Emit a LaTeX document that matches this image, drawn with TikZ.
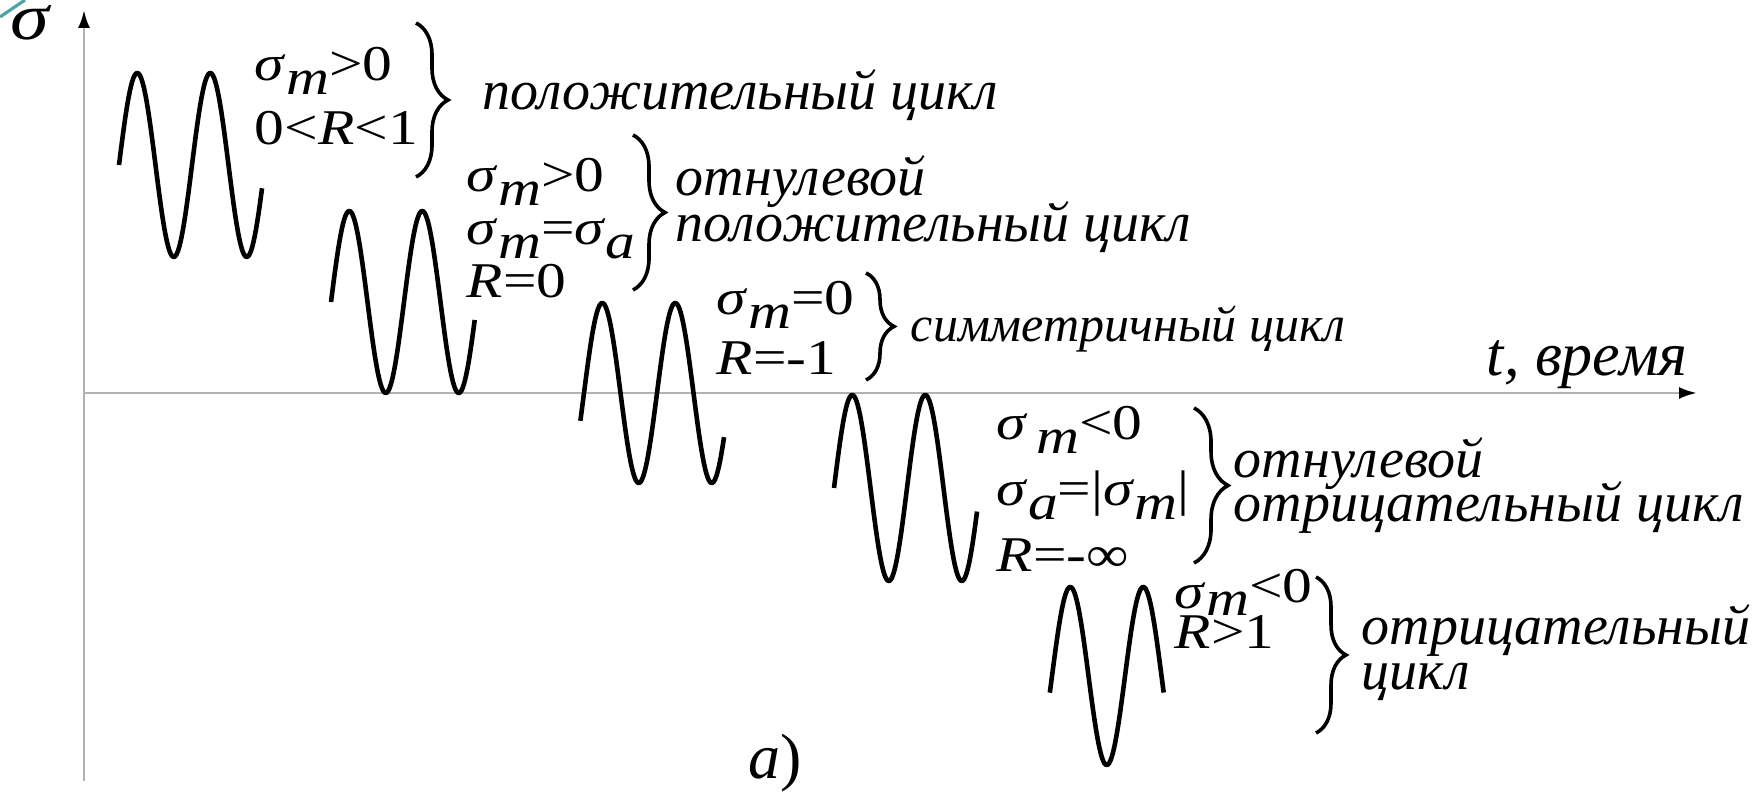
\documentclass[tikz,border=0pt]{standalone}
\usepackage{fontspec}
\usepackage{graphicx}
\setmainfont{Liberation Serif}
\newfontfamily\fmfont[FakeStretch=1.19]{Liberation Serif}
\usetikzlibrary{arrows.meta,positioning,decorations.pathreplacing}

\newcommand{\sgm}[1]{\textit{σ}\raisebox{-0.6ex}{\textit{#1}}}
% lines of one label, baseline on the first line
\newcommand{\rows}[1]{\vtop{\halign{##\hfil\cr#1\crcr}}}

\begin{document}
\lineskiplimit=-100pt
\begin{tikzpicture}[
  x=0.25pt, y=-0.25pt,
  cond/.style={anchor=base west,inner sep=0pt,
    font=\fmfont\fontsize{12.5}{#1}\selectfont},
  kind/.style={anchor=base west,inner sep=0pt,
    font=\fontsize{14}{#1}\selectfont\itshape},
  kind/.default=16pt,
  axis/.style={draw=black!30,line width=0.7pt},
  tip/.style={-{Latex[length=4.5pt,width=3pt,color=black]}},
  wave/.style={line width=1.15pt,line join=round},
  brc/.style={decorate,decoration={brace,amplitude=#1},line width=0.9pt},
  brc/.default=8pt
]
\useasboundingbox (0,0) rectangle (1762,798);
\draw[teal!70,line width=0.8pt] (0,17) -- (25,0);

% axes
\coordinate (o) at (84,393);
\coordinate (ytop) at (84,10);
\coordinate (ybot) at (84,781);
\coordinate (xend) at (1697,393);
\draw[axis,tip] (ybot) -- (ytop);
\draw[axis,tip] (o) -- (xend);
\node[anchor=base,inner sep=0pt,font=\fmfont\fontsize{16.5}{18}\selectfont] (sig) at (31,40) {\textit{σ}};
\node[kind,font=\fontsize{15.5}{17}\selectfont\itshape] (time) at (1486,376) {t, время};

% waves: start x, mid line, amplitude, phase range
\foreach \xo/\yc/\amp/\pa/\pb in {119/165/92/0/1.96, 331/302/91/0/1.97,
    584/393/90/-0.05/1.92, 834/488/93/0/1.96, 1052/676/89/-0.03/1.53}
  \draw[wave] plot[domain=\pa:\pb,samples=120] ({\xo+73*\x},{\yc-\amp*sin(360*\x)});

% positive cycle
\node[cond=16pt] (c1) at (254,81) {\rows{\sgm{m}>0\cr 0<\textit{R}<1}};
\coordinate (b1t) at (416,23);
\coordinate (b1b) at (416,177);
\draw[brc] (b1t) -- (b1b);
\node[kind] (k1) at (482,110) {положительный цикл};

% pulsating positive cycle
\node[cond=13.25pt] (c2) at (466,192) {\rows{\sgm{m}>0\cr \sgm{m}=\sgm{a}\cr \textit{R}=0}};
\coordinate (b2t) at (633,135);
\coordinate (b2b) at (633,290);
\draw[brc] (b2t) -- (b2b);
\node[kind=11.5pt] (k2) at (675,196) {\rows{отнулевой\cr положительный цикл}};

% symmetric cycle
\node[cond=15pt] (c3) at (716,315) {\rows{\sgm{m}=0\cr \textit{R}=-1}};
\coordinate (b3t) at (866,273);
\coordinate (b3b) at (866,380);
\draw[brc=7pt] (b3t) -- (b3b);
\node[kind,font=\fontsize{12.5}{14}\selectfont\itshape] (k3) at (910,342) {симметричный цикл};

% pulsating negative cycle
\node[cond=16.4pt] (c4) at (996,440) {\rows{\textit{σ}\,\raisebox{-0.6ex}{\textit{m}}<0\cr \sgm{a}=|\sgm{m}|\cr \textit{R}=-∞}};
\coordinate (b4t) at (1194,408);
\coordinate (b4b) at (1194,563);
\draw[brc=8.5pt] (b4t) -- (b4b);
\node[kind=11pt] (k4) at (1233,478) {\rows{отнулевой\cr отрицательный цикл}};

% negative cycle
\node[cond=10pt] (c5) at (1174,609) {\rows{\textit{σ}\raisebox{-0.3ex}{\textit{m}}\raisebox{0.3ex}{<0}\cr \textit{R}>1}};
\coordinate (b5t) at (1316,577);
\coordinate (b5b) at (1316,733);
\draw[brc=7.5pt] (b5t) -- (b5b);
\node[kind=11.25pt] (k5) at (1361,645) {\rows{отрицательный\cr цикл}};

\node[inner sep=0pt,font=\fontsize{16}{18}\selectfont] (fig) at (775,763) {\textit{a})};
\end{tikzpicture}
\end{document}
